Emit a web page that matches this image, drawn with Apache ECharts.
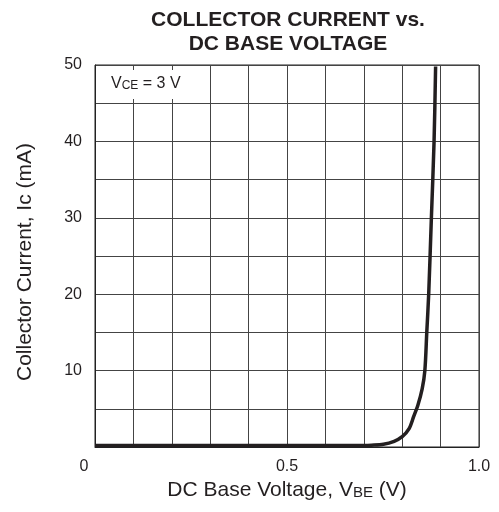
<!DOCTYPE html>
<html>
<head>
<meta charset="utf-8">
<script src="https://cdn.jsdelivr.net/npm/echarts@6/dist/echarts.min.js"></script>
<style>html,body{margin:0;padding:0;background:#fff;}#c{width:499px;height:512px;}</style>
</head>
<body>
<div id="c"></div>
<script>
var titleLines = ['COLLECTOR CURRENT vs.', 'DC BASE VOLTAGE'];
var xTickLabels = ['0', '0.5', '1.0'];
var yTickLabels = ['10', '20', '30', '40', '50'];
var vbe = [0, 0.3, 0.7, 0.72, 0.751, 0.779, 0.80, 0.818, 0.830, 0.841, 0.852, 0.859, 0.864, 0.869, 0.876, 0.883, 0.887];
var ic  = [0.2, 0.2, 0.2, 0.23, 0.35, 0.75, 1.35, 2.4, 4.0, 5.5, 7.6, 10, 15, 20, 30, 40, 49.8];
var annotation = 'VCE = 3 V';

var data = vbe.map(function (v, i) { return [v, ic[i]]; });
var chart = echarts.init(document.getElementById('c'), null, {renderer: 'canvas'});
var ink = '#231f20';
var font = 'Liberation Sans, Arial, Helvetica, sans-serif';
function near(a, b) { return Math.abs(a - b) < 1e-6; }

chart.setOption({
  animation: false,
  backgroundColor: '#fff',
  title: {
    text: titleLines.join('\n'),
    left: 283, top: 3, textAlign: 'center',
    textStyle: {fontFamily: font, fontSize: 21, fontWeight: 'bold', color: ink, lineHeight: 24}
  },
  grid: {left: 95, right: 20, top: 65, bottom: 65, show: true, borderColor: '#222', borderWidth: 1},
  xAxis: {
    type: 'value', min: 0, max: 1, interval: 0.1,
    name: 'DC Base Voltage, V{s|BE} (V)',
    nameLocation: 'middle', nameGap: 29,
    nameTextStyle: {fontFamily: font, fontSize: 21, color: ink, rich: {s: {fontFamily: font, fontSize: 15, color: ink, verticalAlign: 'bottom', padding: [0,0,1,0]}}},
    axisLine: {show: true, lineStyle: {color: '#222', width: 1}},
    axisTick: {show: false},
    splitLine: {show: true, lineStyle: {color: '#444', width: 1}},
    axisLabel: {
      margin: 12, fontFamily: font, fontSize: 16, color: ink,
      formatter: function (v) {
        if (near(v, 0)) return '{z|' + xTickLabels[0] + '}';
        if (near(v, 0.5)) return xTickLabels[1];
        if (near(v, 1)) return xTickLabels[2];
        return '';
      },
      rich: {z: {fontFamily: font, fontSize: 16, color: ink, padding: [0, 22, 0, 0]}}
    }
  },
  yAxis: {
    type: 'value', min: 0, max: 50, interval: 5,
    name: 'Collector Current, Ic (mA)',
    nameLocation: 'middle', nameGap: 59,
    nameTextStyle: {fontFamily: font, fontSize: 21, color: ink, padding: [0, 12, 0, 0]},
    axisLine: {show: true, lineStyle: {color: '#222', width: 1}},
    axisTick: {show: false},
    splitLine: {show: true, lineStyle: {color: '#444', width: 1}},
    axisLabel: {
      margin: 13, fontFamily: font, fontSize: 16, color: ink,
      formatter: function (v) {
        var s = String(Math.round(v));
        return yTickLabels.indexOf(s) >= 0 && Math.round(v) % 10 === 0 ? s : '';
      }
    }
  },
  graphic: [
    {type: 'rect', left: 96, top: 70, shape: {width: 100, height: 29}, style: {fill: '#fff'}, z: 5},
    {type: 'text', left: 111, top: 76, z: 6,
     style: {text: 'V{s|CE} = 3 V', fontFamily: font, fontSize: 16, fill: ink,
       rich: {s: {fontFamily: font, fontSize: 12, fill: ink, verticalAlign: 'bottom'}}}}
  ],
  series: [{
    type: 'line', data: data, showSymbol: false, smooth: 0.3,
    lineStyle: {color: ink, width: 3.5}, z: 3
  }]
});
</script>
</body>
</html>
